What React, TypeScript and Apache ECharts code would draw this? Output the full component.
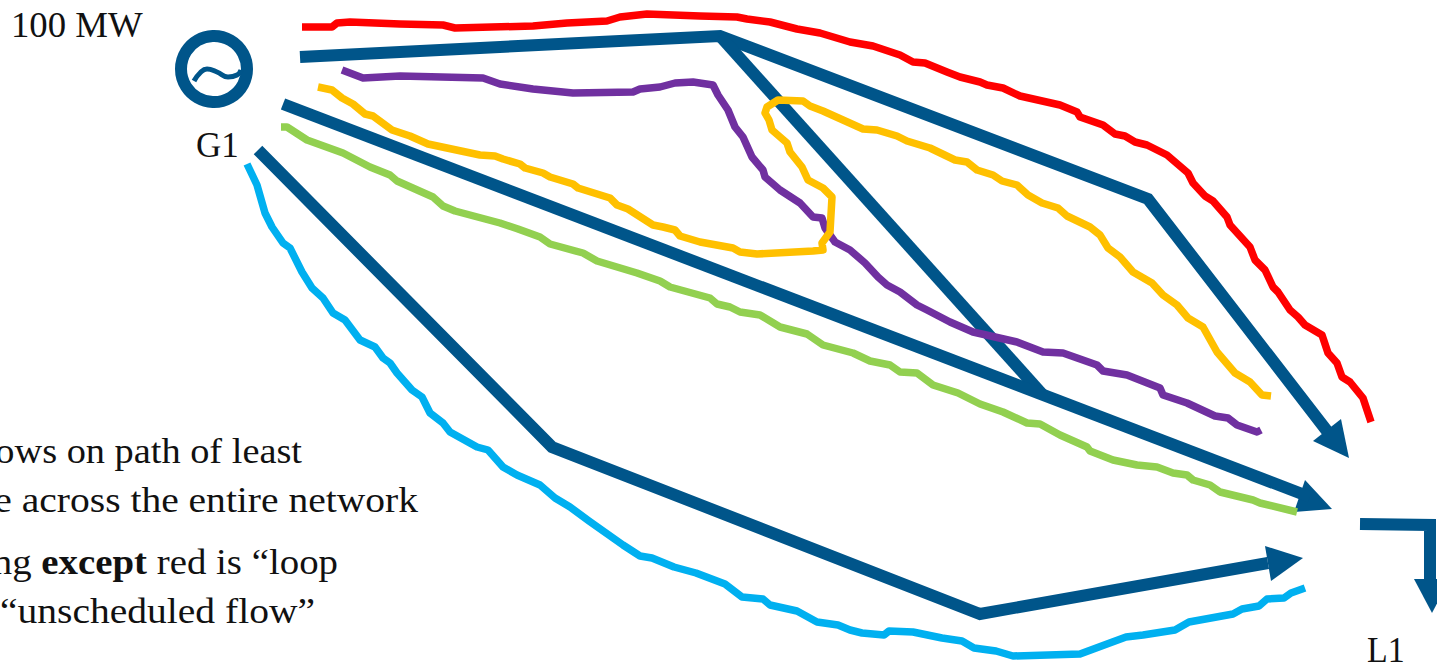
import React, { useEffect, useRef } from "react";
import * as echarts from "echarts";

const WIDTH = 1437;
const HEIGHT = 662;
const BLUE = "#00558A";
const SERIF = "'Liberation Serif', serif";

type Pt = [number, number];

const redFlow: Pt[] = [[302,27],[332,27],[337,23],[350,22],[400,24],[443,25],[455,28],[533,26],[567,23],[607,21],[620,17],[647,14],[700,16],[737,17],[747,19],[770,22],[797,29],[820,33],[850,42],[873,46],[900,55],[913,62],[925,63],[947,72],[960,77],[980,82],[987,85],[1003,88],[1020,96],[1060,105],[1077,112],[1080,117],[1103,125],[1115,134],[1125,136],[1135,142],[1147,145],[1167,155],[1188,173],[1193,183],[1205,196],[1213,201],[1227,217],[1230,225],[1250,247],[1255,260],[1265,270],[1273,287],[1278,292],[1290,310],[1298,317],[1305,325],[1322,335],[1328,353],[1337,363],[1342,377],[1350,382],[1363,398],[1371,422]];
const purpleFlow: Pt[] = [[342,70],[363,78],[400,76],[483,78],[500,84],[533,89],[573,93],[633,92],[640,89],[660,87],[675,83],[693,82],[713,85],[718,95],[728,110],[735,127],[743,137],[752,157],[763,170],[765,177],[780,190],[800,203],[813,217],[822,218],[825,228],[835,242],[850,250],[865,263],[878,277],[887,285],[900,292],[917,305],[927,310],[950,322],[973,332],[1017,342],[1043,352],[1063,353],[1097,365],[1103,371],[1127,375],[1160,388],[1163,395],[1187,403],[1215,416],[1228,418],[1237,425],[1257,432],[1261,430]];
const yellowFlow: Pt[] = [[318,87],[332,90],[342,98],[353,104],[365,114],[373,116],[392,130],[410,136],[428,144],[480,155],[495,156],[503,159],[520,164],[525,168],[543,173],[550,177],[573,184],[578,188],[610,198],[617,205],[628,209],[653,225],[663,227],[675,230],[680,236],[700,242],[733,248],[740,252],[757,254],[813,251],[823,250],[822,243],[830,232],[832,197],[823,188],[808,180],[802,167],[790,152],[787,143],[772,130],[769,120],[765,113],[767,107],[778,100],[803,101],[810,106],[823,111],[843,120],[863,129],[877,130],[897,136],[907,141],[930,148],[955,160],[967,162],[977,170],[993,175],[1002,181],[1017,185],[1028,195],[1042,203],[1058,208],[1067,216],[1090,227],[1100,235],[1108,248],[1120,257],[1133,272],[1152,283],[1163,295],[1177,305],[1188,318],[1203,327],[1217,352],[1235,373],[1250,382],[1262,395],[1271,396]];
const greenFlow: Pt[] = [[281,127],[287,127],[307,140],[343,153],[370,167],[390,175],[397,181],[433,197],[443,206],[455,211],[500,223],[518,229],[540,237],[550,244],[583,253],[597,261],[637,273],[660,281],[670,287],[710,298],[717,304],[730,307],[740,312],[760,315],[780,327],[807,334],[823,345],[853,353],[870,361],[890,365],[900,372],[917,373],[933,385],[958,393],[980,404],[1003,412],[1027,423],[1040,424],[1060,435],[1087,447],[1090,451],[1113,460],[1137,465],[1157,467],[1173,473],[1187,475],[1193,480],[1210,485],[1220,492],[1253,500],[1260,503],[1297,512]];
const cyanFlow: Pt[] = [[247,164],[257,185],[265,213],[272,227],[283,243],[290,248],[302,272],[312,288],[323,298],[333,313],[345,320],[360,340],[375,347],[383,358],[390,363],[397,373],[412,390],[422,397],[430,413],[443,423],[450,432],[477,447],[488,450],[503,467],[517,475],[540,485],[555,498],[570,507],[589,521],[623,545],[640,556],[652,558],[674,567],[696,573],[725,584],[742,597],[763,599],[770,605],[797,611],[817,622],[838,625],[850,630],[862,633],[884,635],[889,631],[913,632],[942,638],[962,641],[974,648],[996,651],[1013,656],[1080,654],[1107,644],[1126,637],[1143,635],[1175,630],[1189,622],[1233,614],[1242,609],[1259,606],[1267,599],[1284,598],[1291,593],[1305,588]];

const lineTop: Pt[] = [[300,57],[720,36],[1148,199],[1327,431]];
const lineDiagonal: Pt[] = [[720,36],[1042,394]];
const lineMiddle: Pt[] = [[283,104],[1310,497]];
const lineBottom: Pt[] = [[258,150],[552,447],[980,614],[1268,563]];
const lineLoad: Pt[] = [[1360,524],[1430,525],[1430,582]];

const arrowHeads: number[][] = [
  [1349,458,1341,419,1313,441],
  [1332,509,1305,480,1294,512],
  [1303,558,1265,546,1271,581],
  [1432,613,1414,579,1450,579],
];

const generator: Pt[] = [[214,69]];
const generatorWave: Pt[] = [[194,81],[200,73],[207,69],[217,72],[228,77],[237,75],[241,70]];

const flows: [string, Pt[]][] = [
  ["#FF0000", redFlow],
  ["#7030A0", purpleFlow],
  ["#FFC000", yellowFlow],
  ["#92D050", greenFlow],
  ["#00B0F0", cyanFlow],
];
const mains: Pt[][] = [lineTop, lineDiagonal, lineMiddle, lineBottom, lineLoad];

const labelsLeft: [string, number, number, number][] = [
  ["100 MW", 11, 35, 1.05],
  ["G1", 196, 155, 1],
  ["L1", 1367, 659, 0.97],
];
const labelsRight: [string, number, number, number][] = [
  ["ows on path of least", 302, 461, 1.096],
  ["e across the entire network", 418, 510, 1.13],
  ["ng {b|except} red is “loop", 338, 572, 1.11],
  ["“unscheduled flow”", 315, 621, 1.13],
];

export default function App() {
  const ref = useRef<HTMLDivElement>(null);
  useEffect(() => {
    if (!ref.current) return;
    const chart = echarts.init(ref.current, undefined, { renderer: "svg" });
    const fontSize = 35;
    const textEl = (text: string, x: number, y: number, scaleX: number, align: string) => ({
      type: "text",
      x,
      y,
      scaleX,
      silent: true,
      style: {
        text,
        x: 0,
        y: 0,
        align,
        verticalAlign: "bottom",
        fill: "#111",
        font: `${fontSize}px ${SERIF}`,
        rich: {
          b: { font: `bold ${fontSize}px ${SERIF}`, fill: "#111" },
        },
      },
    });
    const series: any[] = [];
    mains.forEach((data) =>
      series.push({
        type: "line",
        data,
        symbol: "none",
        lineStyle: { color: BLUE, width: 12, join: "miter", cap: "butt" },
      })
    );
    series.push({
      type: "custom",
      data: arrowHeads,
      silent: true,
      renderItem: (_: any, api: any) => {
        const pts = [0, 2, 4].map((i) => api.coord([api.value(i), api.value(i + 1)]));
        return { type: "polygon", shape: { points: pts }, style: { fill: BLUE } };
      },
    });
    flows.forEach(([color, data]) =>
      series.push({
        type: "line",
        data,
        symbol: "none",
        lineStyle: { color, width: 7.5, join: "round", cap: "butt" },
      })
    );
    series.push({
      type: "scatter",
      data: generator,
      symbol: "circle",
      symbolSize: 66,
      itemStyle: { color: "transparent", borderColor: BLUE, borderWidth: 12, opacity: 1 },
    });
    series.push({
      type: "line",
      data: generatorWave,
      symbol: "none",
      smooth: true,
      lineStyle: { color: BLUE, width: 5 },
    });
    chart.setOption({
      animation: false,
      backgroundColor: "#fff",
      grid: { left: 0, right: 0, top: 0, bottom: 0 },
      xAxis: { type: "value", min: 0, max: WIDTH, show: false },
      yAxis: { type: "value", min: 0, max: HEIGHT, inverse: true, show: false },
      series,
      graphic: [
        ...labelsLeft.map(([t, x, y, s]) => textEl(t, x, y + 8, s, "left")),
        ...labelsRight.map(([t, x, y, s]) => textEl(t, x, y + 8, s, "right")),
      ],
    });
    return () => chart.dispose();
  }, []);
  return (
    <div
      ref={ref}
      style={{ position: "absolute", left: 0, top: 0, width: WIDTH, height: HEIGHT }}
    />
  );
}
